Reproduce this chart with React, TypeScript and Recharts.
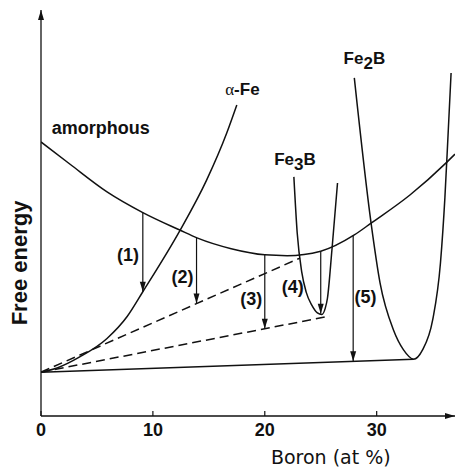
import React from 'react';
import { ComposedChart, Line, XAxis, YAxis, ReferenceDot, Label } from 'recharts';

const INK = '#111';
const SANS = '"Liberation Sans", Arial, Helvetica, sans-serif';

// [boron at %, free energy (arbitrary, 0 = bottom axis)]
const amorphous = [
  [0, 67.5], [2.6, 62.0], [5.9, 55.2], [9.1, 50.1], [12.4, 45.8], [14, 43.8], [17, 41.2],
  [20, 39.7], [22, 39.5], [25, 40.6], [28, 44.6], [29.5, 47.5], [33, 54.5], [36.3, 62.6], [37, 64.5],
];
const alphaFe = [
  [0, 10.8], [1.5, 11.9], [3.5, 14.6], [5.9, 19.1], [7.7, 24.5], [9.1, 30.6],
  [12.4, 45.6], [14.8, 58.1], [16.6, 69.7], [17.5, 76.6],
];
const fe3b = [
  [22.6, 58.9], [22.9, 45.0], [23.3, 35.5], [23.7, 30.5], [24.2, 27.3], [24.7, 25.4],
  [25.1, 25.0], [25.4, 26.5], [25.6, 29.0], [26.0, 40.9], [26.5, 57.4],
];
const fe2b = [
  [28.0, 83.3], [29.5, 47.5], [30.3, 32.8], [31.5, 21.2], [32.4, 16.3], [33.3, 14.0],
  [34.1, 16.3], [35.0, 23.6], [35.7, 37.7], [36.1, 53.9], [36.4, 70.4], [36.65, 84.5],
];
// common tangents
const tangentFe2B = [[0, 10.8], [33.3, 14.0]];
const tangentAmorph = [[0, 10.8], [23.15, 38.9]];
const tangentFe3B = [[0, 10.8], [25.8, 24.6]];

// reaction arrows (1)..(5)
const arrowNames = ['(1)', '(2)', '(3)', '(4)', '(5)'];
const arrowX = [9.1, 13.9, 20, 25, 27.9];
const arrowFrom = [50.1, 43.9, 39.7, 40.6, 44.5];
const arrowTo = [30.6, 27.7, 21.5, 25.2, 13.5];

const xTicks = [0, 10, 20, 30];

// annotation anchors (data units, text baseline)
const arrowLabelPos = [[7.77, 38.2], [12.65, 32.8], [18.8, 27.3], [22.5, 30.3], [29.0, 27.8]];

const toPts = (arr: number[][]) => arr.map(([x, y]) => ({ x, y }));

const arrowHead = (p: any) =>
  p.index === 1 ? (
    <path
      key={`ah-${p.index}`}
      d={`M${p.cx},${p.cy} L${p.cx - 3},${p.cy - 10} L${p.cx + 3},${p.cy - 10} Z`}
      fill={INK}
    />
  ) : (
    <g key={`ah-${p.index}`} />
  );

const xTitle = (props: any) => {
  const vb = props.viewBox;
  return (
    <text
      x={vb.x + vb.width * 0.7}
      y={vb.y + 48}
      textAnchor="middle"
      fontFamily='"DejaVu Sans", sans-serif'
      fontSize={19}
      fill={INK}
    >
      Boron (at %)
    </text>
  );
};

const yTitle = (props: any) => {
  const vb = props.viewBox;
  const x = vb.x + 27;
  const y = vb.y + vb.height / 2 + 50;
  return (
    <text
      x={x}
      y={y}
      transform={`rotate(-90 ${x} ${y})`}
      textAnchor="middle"
      fontFamily={SANS}
      fontWeight={700}
      fontSize={22}
      fill={INK}
    >
      Free energy
    </text>
  );
};

const textShape = (content: React.ReactNode, size = 17) => (p: any) => (
  <text x={p.cx} y={p.cy} textAnchor="middle" fontFamily={SANS} fontWeight={700} fontSize={size} fill={INK}>
    {content}
  </text>
);

export default function App() {
  const curve = { stroke: INK, strokeWidth: 1.5, dot: false, activeDot: false, isAnimationActive: false, legendType: 'none' as const };
  return (
    <div style={{ position: 'absolute', left: 0, top: 0, width: 456, height: 467, background: '#fff' }}>
      <ComposedChart width={456} height={467} margin={{ top: 10, right: 1, bottom: 0, left: 0 }}>
        <defs>
          <marker
            id="axisArrow"
            viewBox="0 0 10 6"
            refX="10"
            refY="3"
            markerWidth="10"
            markerHeight="6"
            markerUnits="userSpaceOnUse"
            orient="auto-start-reverse"
          >
            <path d="M0,0 L10,3 L0,6 Z" fill={INK} />
          </marker>
        </defs>
        <XAxis
          type="number"
          dataKey="x"
          domain={[0, 37]}
          ticks={xTicks}
          allowDataOverflow
          height={51}
          tickSize={-5}
          tickMargin={12}
          tick={{ fill: INK, fontSize: 18, fontWeight: 700, fontFamily: SANS }}
          tickLine={{ stroke: INK, strokeWidth: 1.2 }}
          axisLine={{ stroke: INK, strokeWidth: 1.3, markerEnd: 'url(#axisArrow)' }}
        >
          <Label content={xTitle} />
        </XAxis>
        <YAxis
          type="number"
          domain={[0, 100]}
          allowDataOverflow
          width={41}
          tick={false}
          tickLine={false}
          axisLine={{ stroke: INK, strokeWidth: 1.3, markerStart: 'url(#axisArrow)' }}
        >
          <Label content={yTitle} />
        </YAxis>

        <Line data={toPts(amorphous)} dataKey="y" type="monotone" {...curve} />
        <Line data={toPts(alphaFe)} dataKey="y" type="monotone" {...curve} />
        <Line data={toPts(fe3b)} dataKey="y" type="monotone" {...curve} />
        <Line data={toPts(fe2b)} dataKey="y" type="monotone" {...curve} />
        <Line data={toPts(tangentFe2B)} dataKey="y" type="linear" {...curve} />
        <Line data={toPts(tangentAmorph)} dataKey="y" type="linear" {...curve} strokeDasharray="9 5" />
        <Line data={toPts(tangentFe3B)} dataKey="y" type="linear" {...curve} strokeDasharray="9 5" />

        {arrowX.map((x, i) => (
          <Line
            key={arrowNames[i]}
            data={[{ x, y: arrowFrom[i] }, { x, y: arrowTo[i] }]}
            dataKey="y"
            type="linear"
            stroke={INK}
            strokeWidth={1.2}
            dot={arrowHead}
            activeDot={false}
            isAnimationActive={false}
            legendType="none"
          />
        ))}

        {arrowNames.map((name, i) => (
          <ReferenceDot key={`lbl-${name}`} x={arrowLabelPos[i][0]} y={arrowLabelPos[i][1]} r={0} shape={textShape(name, 18)} />
        ))}

        <ReferenceDot x={5.34} y={69.5} r={0} shape={textShape('amorphous', 18)} />
        <ReferenceDot
          x={18.0}
          y={79.1}
          r={0}
          shape={textShape(
            <>
              <tspan fontFamily='"Liberation Serif", "DejaVu Serif", serif' fontWeight={400}>α</tspan>
              <tspan>-Fe</tspan>
            </>
          )}
        />
        <ReferenceDot
          x={22.7}
          y={61.8}
          r={0}
          shape={textShape(
            <>
              Fe<tspan dy={5}>3</tspan>
              <tspan dy={-5}>B</tspan>
            </>
          )}
        />
        <ReferenceDot
          x={28.9}
          y={86.6}
          r={0}
          shape={textShape(
            <>
              Fe<tspan dy={5}>2</tspan>
              <tspan dy={-5}>B</tspan>
            </>
          )}
        />
      </ComposedChart>
    </div>
  );
}
